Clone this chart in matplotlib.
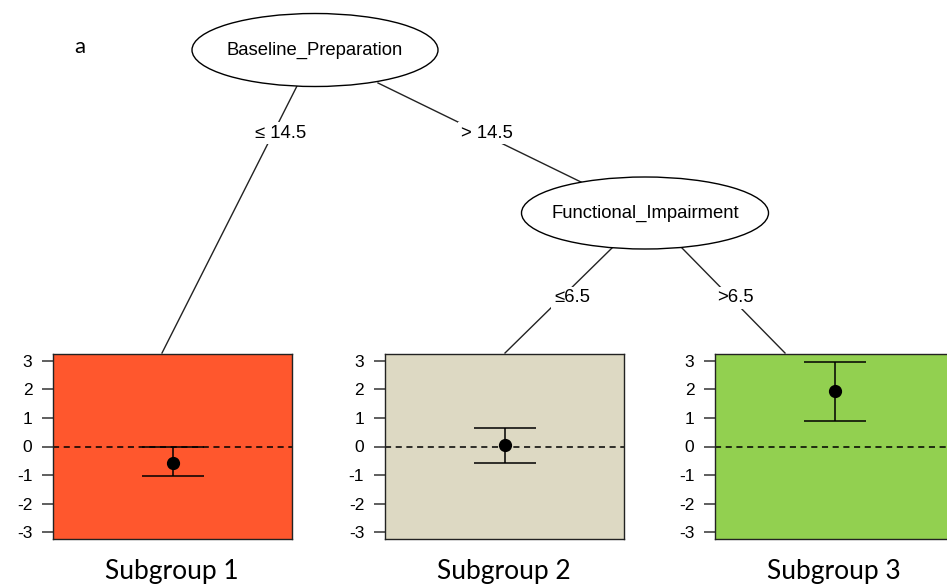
import matplotlib
matplotlib.use("Agg")
import matplotlib.pyplot as plt
from matplotlib.patches import Ellipse

# ---- data ----
subgroups = ["Subgroup 1", "Subgroup 2", "Subgroup 3"]
means = [-0.57, 0.04, 1.95]
lower = [-1.03, -0.58, 0.89]
upper = [-0.03, 0.64, 2.96]
panel_colors = ["#FF572D", "#DDD9C3", "#92D050"]
yticks = [-3, -2, -1, 0, 1, 2, 3]
node_names = ["Baseline_Preparation", "Functional_Impairment"]
edge_labels = ["\u2264 14.5", "> 14.5", "\u22646.5", ">6.5"]

W, H = 947, 585
fig = plt.figure(figsize=(W / 100, H / 100), dpi=100)

# overlay in pixel coordinates for the tree
ov = fig.add_axes([0, 0, 1, 1], zorder=0)
ov.set_xlim(0, W)
ov.set_ylim(H, 0)
ov.axis("off")
ov.patch.set_alpha(0)

tree_font = dict(family="Liberation Sans", fontsize=13.3)

# nodes (ellipses)
nodes = [(315, 50, 246, 73), (645, 213, 247, 72)]
for (cx, cy, w, h), name in zip(nodes, node_names):
    ov.add_patch(Ellipse((cx, cy), w, h, facecolor="white", edgecolor="black", lw=1.0, zorder=3))
    ov.text(cx, cy, name, ha="center", va="center", zorder=4, **tree_font)

# edges: (start, end, label pos)
edges = [((297, 86), (162, 353), (281, 133)),
         ((378, 83), (583, 183), (487, 133)),
         ((612, 248), (505, 353), (572, 298)),
         ((682, 248), (785, 353), (735, 298))]
for (p0, p1, lp), lab in zip(edges, edge_labels):
    ov.plot([p0[0], p1[0]], [p0[1], p1[1]], color="#222222", lw=1.0, zorder=1)
    ov.text(lp[0], lp[1], lab, ha="center", va="center", zorder=2,
            bbox=dict(boxstyle="square,pad=0.15", facecolor="white", edgecolor="none"),
            **tree_font)

ov.text(80, 47, "a", ha="center", va="center", family="Lato", fontsize=16)

# panels
lefts = [53.3, 385, 715.3]
pw, ptop, pbot = 239, 353.7, 539.3
for i in range(3):
    ax = fig.add_axes([lefts[i] / W, (H - pbot) / H, pw / W, (pbot - ptop) / H], zorder=2)
    ax.set_facecolor(panel_colors[i])
    ax.set_xlim(0, 1)
    ax.set_ylim(-3.25, 3.25)
    ax.axhline(0, color="black", lw=1.1, ls=(0, (4, 3)))
    ax.errorbar([0.5], [means[i]], yerr=[[means[i] - lower[i]], [upper[i] - means[i]]],
                fmt="o", color="black", ms=8.5, capsize=22, elinewidth=1.1, capthick=1.1)
    ax.set_xticks([])
    ax.set_yticks(yticks)
    ax.set_yticklabels([str(t) for t in yticks], family="Liberation Sans", fontsize=12.5)
    ax.tick_params(axis="y", length=8, width=1.1, pad=7, color="#333333")
    for s in ax.spines.values():
        s.set_linewidth(1.0)
        s.set_color("#222222")
    ov.text(lefts[i] + pw / 2 - 0.5, 572, subgroups[i], ha="center", va="center",
            family="Lato", fontsize=19)

fig.savefig("out.png", dpi=100)
